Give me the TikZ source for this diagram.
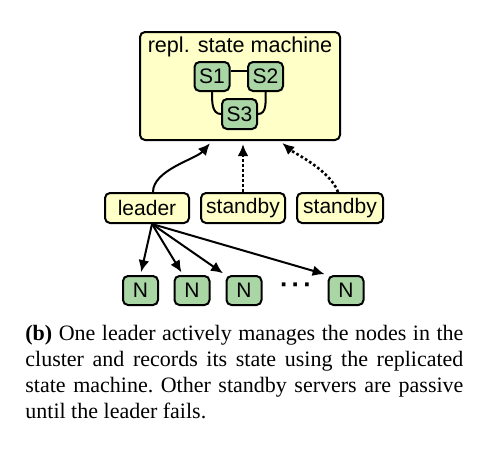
\documentclass[tikz,border=0pt]{standalone}
\usepackage{fontspec}
\setmainfont{Liberation Sans}
\newfontfamily\capfont{Liberation Serif}
\usepackage{tikz}
\usetikzlibrary{arrows.meta}
\definecolor{boxyellow}{RGB}{255,255,200}
\definecolor{boxgreen}{RGB}{170,214,166}

\begin{document}
\begin{tikzpicture}[x=0.5pt, y=-0.5pt, >={Latex[length=6pt,width=5.4pt]},
  font=\fontsize{10.5}{12}\selectfont,
  ybox/.style={draw, line width=1pt, rounded corners=2.5pt, fill=boxyellow, inner sep=0pt},
  gbox/.style={draw, line width=1pt, rounded corners=2.5pt, fill=boxgreen, inner sep=0pt, minimum width=17.5pt},
  link/.style={line width=1pt},
  passive/.style={line width=1.3pt, dash pattern=on 1.3pt off 1.2pt}]
\useasboundingbox (0,0) rectangle (496,456);
% replicated state machine
\node [ybox, minimum width=100pt, minimum height=54pt] (rsm) at (240,86) {};
\node [font=\fontsize{10.8}{12}\selectfont] (title) at (240,47) {repl. state machine};
\node [gbox, minimum height=14.5pt] (s1) at (212,76.5) {S1};
\node [gbox, minimum height=14.5pt] (s2) at (265.5,76.5) {S2};
\node [gbox, minimum height=15pt] (s3) at (239.5,114) {S3};
\draw [link] ([yshift=3pt]s1.east) -- ([yshift=3pt]s2.west);
\draw [link] (s1.south) to[out=-90, in=180] (s3.west);
\draw [link] (s2.south) to[out=-90, in=0] (s3.east);
% servers
\node [ybox, minimum width=42pt, minimum height=15pt] (leader) at (147,208) {leader};
\node [ybox, minimum width=42pt, minimum height=15pt] (sb1) at (243,208) {standby};
\node [ybox, minimum width=43pt, minimum height=15pt] (sb2) at (340,208) {standby};
\draw [->, link, shorten >=1.5pt] ([xshift=3pt]leader.north) .. controls +(0,-22) and +(-16,18) .. ([xshift=-14pt]rsm.south);
\draw [->, passive, shorten >=1.5pt] (sb1.north) -- (sb1.north |- rsm.south);
\draw [->, passive, shorten >=1.5pt] ([xshift=-1pt]sb2.north) .. controls +(-8,-22) and +(14,12) .. ([xshift=20pt]rsm.south);
% nodes
\node [gbox, minimum height=14.5pt] (n1) at (140.5,290.5) {N};
\node [gbox, minimum height=14.5pt] (n2) at (192,290.5) {N};
\node [gbox, minimum height=14.5pt] (n3) at (244,290.5) {N};
\node [gbox, minimum height=14.5pt] (n4) at (346,290.5) {N};
\node [font=\fontsize{13}{13}\bfseries] (dots) at (296,288) {·\kern1.5pt·\kern1.5pt·};
\draw [->, link, shorten >=1.5pt] ([xshift=2.5pt]leader.south) -- (n1.north);
\draw [->, link, shorten >=1.5pt] ([xshift=2.5pt]leader.south) -- (n2.120);
\draw [->, link, shorten >=1.5pt] ([xshift=2.5pt]leader.south) -- (n3.north west);
\draw [->, link, shorten >=1.5pt] ([xshift=2.5pt]leader.south) -- (n4.north west);
% caption
\node [anchor=north west, inner sep=0pt, text width=219pt, align=justify,
  font=\capfont\fontsize{11}{13}\selectfont] (caption) at (25,325)
  {\frenchspacing\hyphenpenalty=10000\textbf{(b)} One leader actively manages the nodes in the\linebreak
  cluster and records its state using the replicated\linebreak
  state machine. Other standby servers are passive\linebreak
  until the leader fails.};
\end{tikzpicture}
\end{document}
